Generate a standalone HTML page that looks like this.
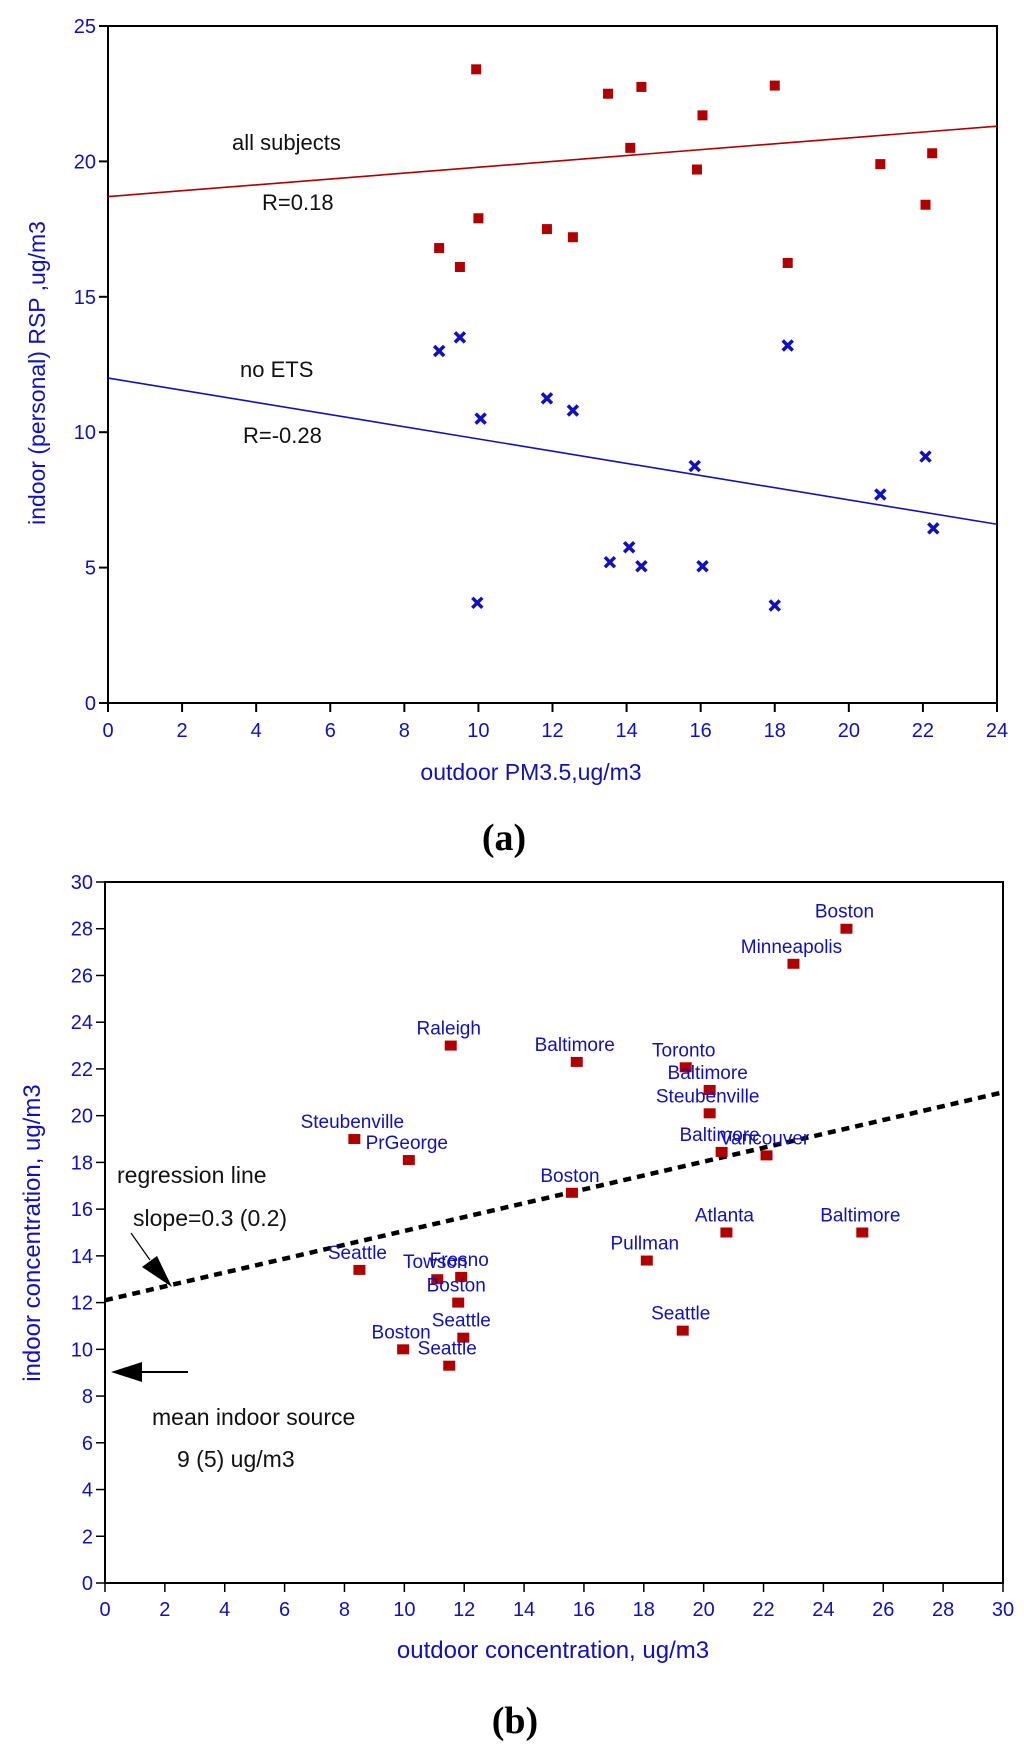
<!DOCTYPE html>
<html><head><meta charset="utf-8"><style>
body{margin:0;background:#fff;}
svg{display:block;}
text{font-family:"Liberation Sans",sans-serif;}
</style></head><body>
<svg id="fig" width="1024" height="1762" viewBox="0 0 1024 1762" xmlns="http://www.w3.org/2000/svg">
<g id="chartA"></g>
<g id="chartB"></g>
<text x="504" y="850" text-anchor="middle" font-family="Liberation Serif,serif" font-weight="bold" font-size="38" style="font-family:'Liberation Serif',serif">(a)</text>
<text x="515" y="1733" text-anchor="middle" font-weight="bold" font-size="38" style="font-family:'Liberation Serif',serif">(b)</text>
</svg>
<script>
// ---- Chart A data ----
const aAllX = [9.94, 8.94, 9.5, 10.0, 11.85, 12.55, 13.5, 14.4, 14.1, 16.05, 15.9, 18.0, 18.35, 20.85, 22.07, 22.25];
const aAllY = [23.4, 16.8, 16.1, 17.9, 17.5, 17.2, 22.5, 22.75, 20.5, 21.7, 19.7, 22.8, 16.25, 19.9, 18.4, 20.3];
const aNoEtsX = [8.94, 9.5, 10.06, 11.85, 12.55, 15.84, 13.55, 14.07, 14.4, 16.05, 9.97, 18.0, 18.35, 20.85, 22.07, 22.28];
const aNoEtsY = [13.0, 13.5, 10.5, 11.25, 10.8, 8.75, 5.2, 5.75, 5.05, 5.05, 3.7, 3.6, 13.2, 7.7, 9.1, 6.45];
const aAllFit = [18.7, 21.3];   // y at x=0 and x=24
const aNoEtsFit = [12.0, 6.6];
const aXTicks = [0,2,4,6,8,10,12,14,16,18,20,22,24];
const aYTicks = [0,5,10,15,20,25];

// ---- Chart B data ----
const bCities = ["Boston","Minneapolis","Raleigh","Baltimore","Toronto","Baltimore","Steubenville","Steubenville","PrGeorge","Baltimore","Vancouver","Boston","Atlanta","Baltimore","Pullman","Seattle","Towson","Fresno","Boston","Seattle","Seattle","Boston","Seattle"];
const bOutdoor = [24.77, 23.0, 11.55, 15.76, 19.4, 20.2, 20.2, 8.33, 10.15, 20.6, 22.1, 15.6, 20.76, 25.3, 18.1, 8.5, 11.1, 11.9, 11.8, 11.97, 19.3, 9.96, 11.5];
const bIndoor = [28.0, 26.5, 23.0, 22.3, 22.07, 21.1, 20.1, 19.0, 18.1, 18.45, 18.3, 16.7, 15.0, 15.0, 13.8, 13.4, 13.0, 13.1, 12.0, 10.5, 10.8, 10.0, 9.3];
const bFit = [12.1, 21.0];  // y at x=0 and x=30
const bXTicks = [0,2,4,6,8,10,12,14,16,18,20,22,24,26,28,30];
const bYTicks = [0,2,4,6,8,10,12,14,16,18,20,22,24,26,28,30];

const NS = "http://www.w3.org/2000/svg";
function mk(parent, tag, attrs, txt){
  const e = document.createElementNS(NS, tag);
  for (const k in attrs) e.setAttribute(k, attrs[k]);
  if (txt !== undefined) e.textContent = txt;
  parent.appendChild(e); return e;
}
const BLUE = "#1010c0", RED = "#b00000";

// ===== Chart A =====
(function(){
  const g = document.getElementById("chartA");
  const L=108, R=997, T=26, B=703, xMax=24, yMax=25;
  const sx = v => L + v/xMax*(R-L);
  const sy = v => B - v/yMax*(B-T);
  const frame = mk(g,"rect",{x:L,y:T,width:R-L,height:B-T,fill:"none",stroke:"#000","stroke-width":2});
  
  
  aXTicks.forEach(t=>{
    const l = mk(g,"line",{x1:sx(t),x2:sx(t),y1:B,y2:B+9,stroke:"#000","stroke-width":2});
    
    
    const tx = mk(g,"text",{x:sx(t),y:B+34,"text-anchor":"middle","font-size":20,fill:BLUE},String(t));
    
    
  });
  aYTicks.forEach(t=>{
    const l = mk(g,"line",{x1:L-9,x2:L,y1:sy(t),y2:sy(t),stroke:"#000","stroke-width":2});
    
    
    const tx = mk(g,"text",{x:L-12,y:sy(t)+7,"text-anchor":"end","font-size":20,fill:BLUE},String(t));
    
    
  });
  const xt = mk(g,"text",{x:531,y:780,"text-anchor":"middle","font-size":23,fill:BLUE},"outdoor PM3.5,ug/m3");
  
  
  const yt = mk(g,"text",{x:0,y:0,"text-anchor":"middle","font-size":23,fill:BLUE,transform:"translate(45,373) rotate(-90)"},"indoor (personal) RSP ,ug/m3");
  
  
  const l1 = mk(g,"line",{x1:sx(0),y1:sy(aAllFit[0]),x2:sx(24),y2:sy(aAllFit[1]),stroke:RED,"stroke-width":1.6});
  
  
  const l2 = mk(g,"line",{x1:sx(0),y1:sy(aNoEtsFit[0]),x2:sx(24),y2:sy(aNoEtsFit[1]),stroke:BLUE,"stroke-width":1.6});
  
  
  aAllX.forEach((x,i)=>{
    const r = mk(g,"rect",{x:sx(x)-5,y:sy(aAllY[i])-5,width:10,height:10,fill:RED});
    
    
  });
  aNoEtsX.forEach((x,i)=>{
    const cx=sx(x), cy=sy(aNoEtsY[i]);
    const p = mk(g,"path",{d:`M${cx-5},${cy-5}L${cx+5},${cy+5}M${cx+5},${cy-5}L${cx-5},${cy+5}`,stroke:BLUE,"stroke-width":3.5,fill:"none"});
    
    
  });
  [["all subjects",232,150,"label-all-subjects"],["R=0.18",262,210,"label-r-all"],["no ETS",240,377,"label-no-ets"],["R=-0.28",243,443,"label-r-no-ets"]].forEach(a=>{
    const t = mk(g,"text",{x:a[1],y:a[2],"font-size":22,fill:"#111"},a[0]);
    
    
  });
})();

// ===== Chart B =====
(function(){
  const g = document.getElementById("chartB");
  const L=105, R=1003, T=882, B=1583, xMax=30, yMax=30;
  const sx = v => L + v/xMax*(R-L);
  const sy = v => B - v/yMax*(B-T);
  const frame = mk(g,"rect",{x:L,y:T,width:R-L,height:B-T,fill:"none",stroke:"#000","stroke-width":2});
  
  
  bXTicks.forEach(t=>{
    const l = mk(g,"line",{x1:sx(t),x2:sx(t),y1:B,y2:B+9,stroke:"#000","stroke-width":1.5});
    
    
    const tx = mk(g,"text",{x:sx(t),y:B+33,"text-anchor":"middle","font-size":20,fill:BLUE},String(t));
    
    
  });
  bYTicks.forEach(t=>{
    const l = mk(g,"line",{x1:L-9,x2:L,y1:sy(t),y2:sy(t),stroke:"#000","stroke-width":1.5});
    
    
    const tx = mk(g,"text",{x:L-12,y:sy(t)+7,"text-anchor":"end","font-size":20,fill:BLUE},String(t));
    
    
  });
  const xt = mk(g,"text",{x:553,y:1658,"text-anchor":"middle","font-size":24,fill:BLUE},"outdoor concentration, ug/m3");
  
  
  const yt = mk(g,"text",{x:0,y:0,"text-anchor":"middle","font-size":24,fill:BLUE,transform:"translate(40,1233) rotate(-90)"},"indoor concentration, ug/m3");
  
  
  const reg = mk(g,"line",{x1:sx(0),y1:sy(bFit[0]),x2:sx(30),y2:sy(bFit[1]),stroke:"#000","stroke-width":4.5,"stroke-dasharray":"8 6"});
  
  
  bOutdoor.forEach((x,i)=>{
    const cx=sx(x), cy=sy(bIndoor[i]);
    const r = mk(g,"rect",{x:cx-6,y:cy-5,width:12,height:10,fill:RED});
    
    
    const t = mk(g,"text",{x:cx-2,y:cy-11,"text-anchor":"middle","font-size":19,fill:BLUE},bCities[i]);
    
    
  });
  [["regression line",117,1183,"annotation-regression-line"],["slope=0.3 (0.2)",133,1226,"annotation-slope"],["mean indoor source",152,1425,"annotation-mean-indoor-source"],["9 (5) ug/m3",177,1467,"annotation-mean-value"]].forEach(a=>{
    const t = mk(g,"text",{x:a[1],y:a[2],"font-size":23,fill:"#111"},a[0]);
    
    
  });
  const a1 = mk(g,"line",{x1:131,y1:1233,x2:150,y2:1260,stroke:"#000","stroke-width":1.2});
  
  
  const a1h = mk(g,"polygon",{points:"172,1287 142,1267 157,1256",fill:"#000"});
  
  
  const a2 = mk(g,"line",{x1:130,y1:1372,x2:188,y2:1372,stroke:"#000","stroke-width":2});
  
  
  const a2h = mk(g,"polygon",{points:"111,1372 142,1362 142,1382",fill:"#000"});
  
  
})();
</script>
</body></html>
